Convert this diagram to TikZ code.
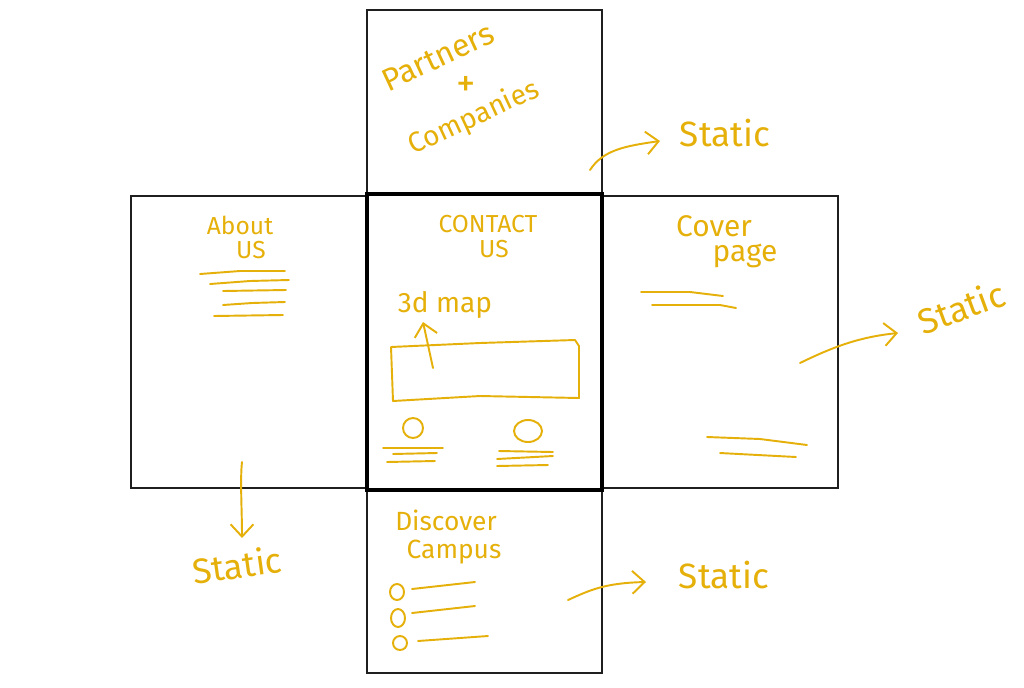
\documentclass[tikz,border=0pt]{standalone}
\usepackage{fontspec}
\setmainfont{Fira Sans}
\usetikzlibrary{arrows.meta}
\definecolor{pen}{RGB}{230,176,10}
\begin{document}
\begin{tikzpicture}[x=0.02cm,y=-0.02cm,
  frame/.style={draw=black!88,line width=1.2pt},
  thickframe/.style={draw=black,line width=2pt},
  hand/.style={text=pen,inner sep=0pt},
  ink/.style={draw=pen,line width=1.1pt,line cap=round,line join=round},
  arr/.style={ink,-{Straight Barb[length=7pt,width=13pt,line width=1.1pt]}},
  fs/.style={font=\fontsize{#1}{#1}\selectfont}
]
\useasboundingbox[fill=white] (0,0) rectangle (1024,687);

% boxes
\draw[frame] (367,10) rectangle (602,193);
\draw[frame] (131,196) rectangle (367,488);
\draw[frame] (602,196) rectangle (838,488);
\draw[frame] (367,490) rectangle (602,673);
\draw[thickframe] (367,194) rectangle (602,490);

% top box
\node[hand,fs=18,rotate=25] (partners) at (438,57) {Partners};
\node[hand,fs=22] (plus) at (466,86) {+};
\node[hand,fs=16,rotate=25] (companies) at (474,118) {Companies};

% left box
\node[hand,fs=14] (about) at (240,225) {About};
\node[hand,fs=14] (aboutus) at (251,250) {US};
\draw[ink] (200,274) -- (240,271) -- (285,271);
\draw[ink] (210,284) -- (250,281) -- (289,280);
\draw[ink] (223,291) -- (286,290);
\draw[ink] (223,305) -- (252,303) -- (285,302);
\draw[ink] (214,316) -- (283,315);

% center box
\node[hand,fs=14] (contact) at (488,224) {CONTACT};
\node[hand,fs=14] (contactus) at (494,249) {US};
\node[hand,fs=16] (map) at (445,305) {3d map};
\draw[ink] (391,347) -- (480,343) -- (575,340) -- (579,346) -- (579,398) -- (480,396) -- (393,401) -- cycle;
\coordinate (maptail) at (433,368);
\coordinate (maphead) at (423,322);
\draw[arr] (maptail) -- (maphead);
\draw[ink] (413,428) circle [radius=10];
\draw[ink] (528,431) ellipse [x radius=14, y radius=11];
\draw[ink] (383,448) -- (443,448);
\draw[ink] (393,454) -- (437,453);
\draw[ink] (387,462) -- (435,461);
\draw[ink] (499,451) -- (553,452);
\draw[ink] (497,459) -- (553,456);
\draw[ink] (497,466) -- (548,465);

% right box
\node[hand,fs=17] (cover) at (714,226) {Cover};
\node[hand,fs=17] (page) at (745,256) {page};
\draw[ink] (641,292) -- (690,292) -- (723,296);
\draw[ink] (652,305) -- (720,305) -- (736,308);
\draw[ink] (707,437) -- (760,439) -- (807,445);
\draw[ink] (720,453) -- (796,457);

% bottom box
\node[hand,fs=15] (discover) at (446,520) {Discover};
\node[hand,fs=15] (campus) at (454,552) {Campus};
\draw[ink] (397,592) ellipse [x radius=7, y radius=8];
\draw[ink] (398,618) ellipse [x radius=7, y radius=9];
\draw[ink] (400,643) ellipse [x radius=7, y radius=7];
\draw[ink] (412,589) -- (475,582);
\draw[ink] (412,613) -- (475,606);
\draw[ink] (418,641) -- (488,636);

% static labels and arrows
\node[hand,fs=20] (s1) at (725,133) {Static};
\node[hand,fs=20,rotate=20] (s2) at (961,307) {Static};
\node[hand,fs=20,rotate=8] (s3) at (237,565) {Static};
\node[hand,fs=20] (s4) at (724,575) {Static};

\coordinate (t1) at (590,170);
\coordinate (h1) at (660,141);
\draw[arr] (t1) .. controls (603,150) and (625,146) .. (h1);
\coordinate (t2) at (800,363);
\coordinate (h2) at (898,333);
\draw[arr] (t2) .. controls (835,346) and (860,337) .. (h2);
\coordinate (t3) at (242,462);
\coordinate (h3) at (242,538);
\draw[arr] (t3) .. controls (240,480) and (242,510) .. (h3);
\coordinate (t4) at (568,600);
\coordinate (h4) at (646,582);
\draw[arr] (t4) .. controls (590,590) and (605,583) .. (h4);
\end{tikzpicture}
\end{document}
